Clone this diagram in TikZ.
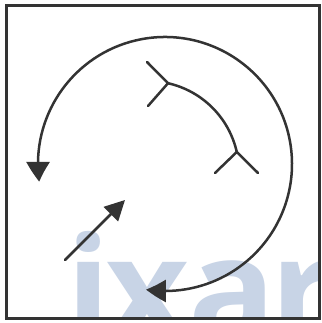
\documentclass[tikz,border=0pt]{standalone}
\usepackage{fontspec}
\newfontfamily\wmfont{Open Sans}
\usetikzlibrary{arrows.meta,bending}
\definecolor{ink}{HTML}{333333}
\definecolor{wm}{RGB}{200,212,230}
\tikzset{
  stroke/.style={draw=ink, line width=2.5pt, line cap=round},
  wmletter/.style={anchor=base west, inner sep=0pt, text=wm, font=\wmfont\bfseries\fontsize{145}{145}\selectfont},
}
\begin{document}
\begin{tikzpicture}[x=1pt,y=-1pt]
\useasboundingbox (0,0) rectangle (321,323);
\fill[white] (0,0) rectangle (321,323);
% watermark
\begin{scope}
\clip (6,5.5) rectangle (319.5,318.5);
\node[wmletter] (wi) at (66,341) {i};
\node[wmletter] (wx) at (105,341) {x};
\node[wmletter] (wa) at (188,341) {a};
\node[wmletter] (wr) at (270,341) {r};
\end{scope}
% frame
\draw[draw=ink, line width=3pt] (6,5.5) rectangle (319.5,318.5);
% big circular double arrow
\coordinate (c) at (165,164);
\draw[stroke, {Triangle[length=20pt,width=23pt,bend]}-{Triangle[length=20pt,width=22pt,bend]}]
  ([shift={(172:127)}]c) arc[start angle=172, end angle=458.6, radius=127];
% inner arc with Y-ends
\coordinate (ic) at (148,172);
\coordinate (ja) at ([shift={(-77.3:91)}]ic);
\coordinate (jb) at ([shift={(-12.7:91)}]ic);
\coordinate (a1) at (147,62);
\coordinate (a2) at (148,106);
\coordinate (b1) at (215,173);
\coordinate (b2) at (258,173);
\draw[stroke] (ja) arc[start angle=-77.3, end angle=-12.7, radius=91];
\draw[stroke] (a1) -- (ja) -- (a2);
\draw[stroke] (b1) -- (jb) -- (b2);
% straight arrow
\coordinate (s0) at (65,260);
\coordinate (s1) at (125,200);
\draw[stroke, -{Triangle[length=20pt,width=20pt]}] (s0) -- (s1);
\end{tikzpicture}
\end{document}
